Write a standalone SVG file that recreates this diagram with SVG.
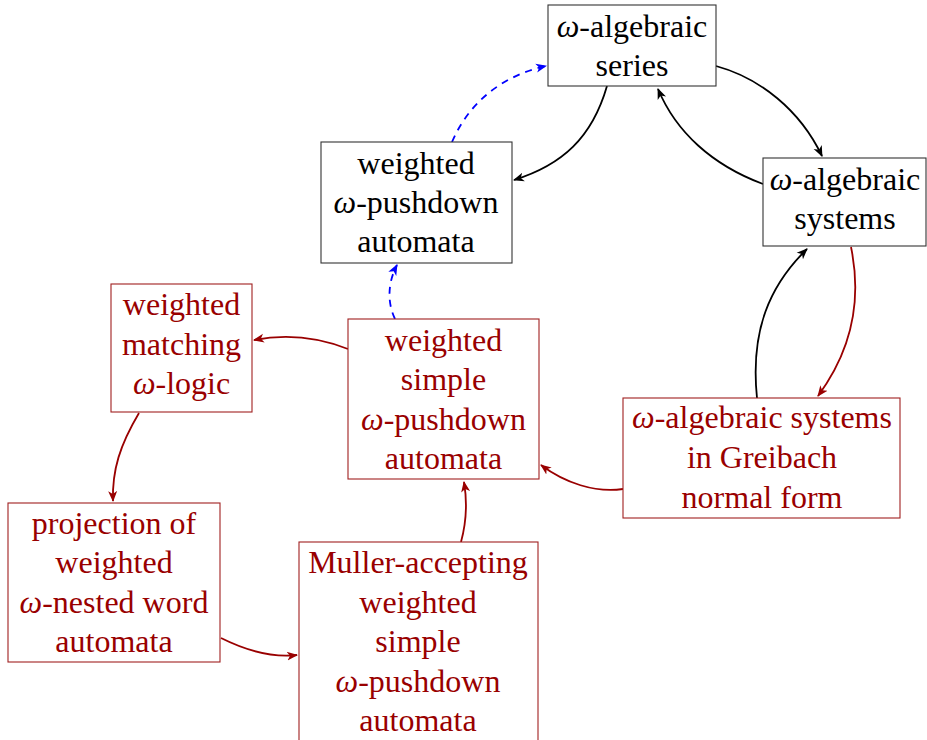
<svg xmlns="http://www.w3.org/2000/svg" width="927" height="740" viewBox="0 0 927 740">
<style>
text{font-family:"Liberation Serif","Times New Roman",serif;font-size:32px;text-anchor:middle}
.k text{fill:#000}
.r text{fill:#990000}
.k rect{fill:#fff;stroke:#333;stroke-width:1.1}
.r rect{fill:#fff;stroke:#a02020;stroke-width:1.1}
.w{font-style:italic}
.ek{fill:none;stroke:#000;stroke-width:1.8}
.er{fill:none;stroke:#990000;stroke-width:1.8}
.eb{fill:none;stroke:#0000ff;stroke-width:1.8;stroke-dasharray:7,6}
</style>
<defs>
<marker id="ak" markerUnits="userSpaceOnUse" markerWidth="12" markerHeight="12" viewBox="0 0 12 12" refX="10" refY="6" orient="auto"><path d="M0,1.5 L11,6 L0,10.5 L3,6 z" fill="#000"/></marker>
<marker id="ar" markerUnits="userSpaceOnUse" markerWidth="12" markerHeight="12" viewBox="0 0 12 12" refX="10" refY="6" orient="auto"><path d="M0,1.5 L11,6 L0,10.5 L3,6 z" fill="#990000"/></marker>
<marker id="ab" markerUnits="userSpaceOnUse" markerWidth="12" markerHeight="12" viewBox="0 0 12 12" refX="10" refY="6" orient="auto"><path d="M0,1.5 L11,6 L0,10.5 L3,6 z" fill="#0000ff"/></marker>
</defs>
<g id="connectors">
<path class="ek" d="M716,66 C760,78 800,110 822,156" marker-end="url(#ak)"/>
<path class="ek" d="M607,86 C592,138 562,165 514,180" marker-end="url(#ak)"/>
<path class="ek" d="M763,184 C712,165 676,132 658,89" marker-end="url(#ak)"/>
<path class="eb" d="M452,142 C470,100 505,75 546,66" marker-end="url(#ab)"/>
<path class="eb" d="M395,319 C386,300 389,280 397,265" marker-end="url(#ab)"/>
<path class="ek" d="M757,398 C750,330 770,285 807,249" marker-end="url(#ak)"/>
<path class="er" d="M851,247 C862,300 852,350 818,396" marker-end="url(#ar)"/>
<path class="er" d="M623,489 C595,493 565,483 541,465" marker-end="url(#ar)"/>
<path class="er" d="M348,349 C320,338 290,333 254,340" marker-end="url(#ar)"/>
<path class="er" d="M139,413 C120,445 112,470 113,501" marker-end="url(#ar)"/>
<path class="er" d="M221,638 C245,650 270,658 297,655" marker-end="url(#ar)"/>
<path class="er" d="M461,542 C467,520 467,500 464,482" marker-end="url(#ar)"/>
</g>
<g id="n-series" class="k">
<rect x="548" y="5" width="168" height="81"/>
<text x="632" y="37"><tspan class="w">ω</tspan>-algebraic</text>
<text x="632" y="76">series</text>
</g>
<g id="n-wpda" class="k">
<rect x="321" y="142" width="191" height="121"/>
<text x="416" y="174">weighted</text>
<text x="416" y="213"><tspan class="w">ω</tspan>-pushdown</text>
<text x="416" y="252">automata</text>
</g>
<g id="n-systems" class="k">
<rect x="763" y="158" width="163" height="88"/>
<text x="845" y="190"><tspan class="w">ω</tspan>-algebraic</text>
<text x="845" y="229">systems</text>
</g>
<g id="n-greibach" class="r">
<rect x="623" y="398" width="277" height="120"/>
<text x="762" y="428"><tspan class="w">ω</tspan>-algebraic systems</text>
<text x="762" y="468">in Greibach</text>
<text x="762" y="508">normal form</text>
</g>
<g id="n-logic" class="r">
<rect x="111" y="284" width="141" height="128"/>
<text x="181.5" y="315">weighted</text>
<text x="181.5" y="355">matching</text>
<text x="181.5" y="394"><tspan class="w">ω</tspan>-logic</text>
</g>
<g id="n-simple" class="r">
<rect x="348" y="319" width="191" height="160"/>
<text x="443.5" y="351">weighted</text>
<text x="443.5" y="390">simple</text>
<text x="443.5" y="430"><tspan class="w">ω</tspan>-pushdown</text>
<text x="443.5" y="469">automata</text>
</g>
<g id="n-nested" class="r">
<rect x="8" y="503" width="212" height="159"/>
<text x="114" y="534">projection of</text>
<text x="114" y="573">weighted</text>
<text x="114" y="613"><tspan class="w">ω</tspan>-nested word</text>
<text x="114" y="652">automata</text>
</g>
<g id="n-muller" class="r">
<rect x="299" y="542" width="239" height="200"/>
<text x="418" y="573">Muller-accepting</text>
<text x="418" y="613">weighted</text>
<text x="418" y="652">simple</text>
<text x="418" y="692"><tspan class="w">ω</tspan>-pushdown</text>
<text x="418" y="731">automata</text>
</g>
</svg>
